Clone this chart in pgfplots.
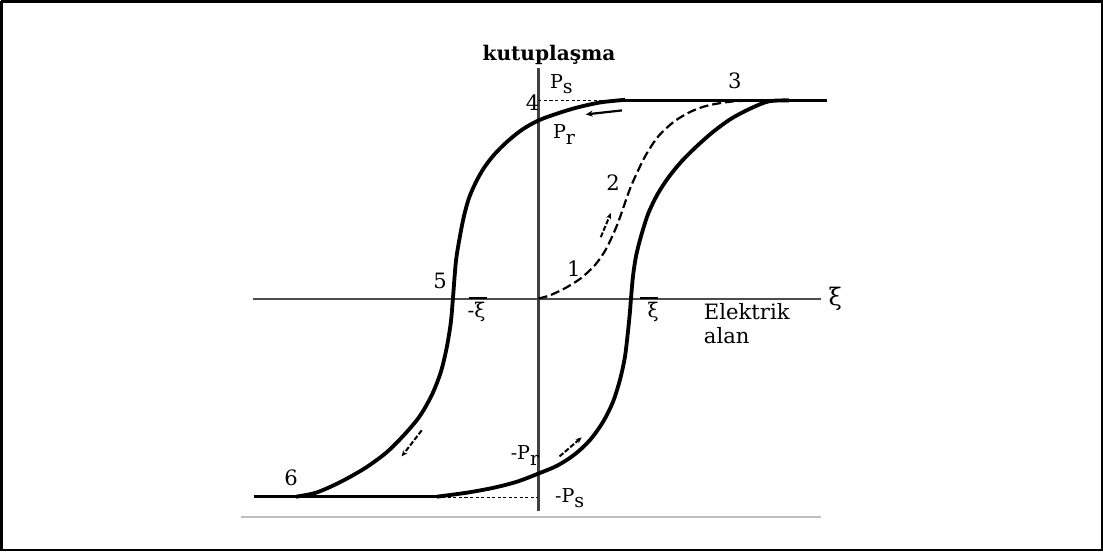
\documentclass[border=0pt]{standalone}
\usepackage{pgfplots}
\pgfplotsset{compat=1.18}
\usepackage{fontspec}
\setmainfont{DejaVu Serif}
\usetikzlibrary{arrows.meta}
\newcommand{\fs}[1]{\fontsize{#1bp}{#1bp}\selectfont}
\begin{document}
\begin{tikzpicture}
\begin{axis}[width=1103bp, height=551bp, scale only axis,
  xmin=0, xmax=1103, ymin=0, ymax=551, y dir=reverse,
  hide axis, clip=false,
  every node/.style={text=black!85, inner sep=0pt, outer sep=0pt}]
% outer frame
\addplot[black, line width=2.5bp] coordinates {(7,1.5) (1101,1.5) (1101,547) (7,547) (7,1.5)};
% bottom light gray line
\addplot[black!25, line width=1.5bp] coordinates {(245,514) (822,514)};
% axes
\addplot[black!70, line width=2bp] coordinates {(257,297) (822,297)};
\addplot[black!75, line width=2.8bp] coordinates {(541,68) (541,508)};
% dashed saturation guides
\addplot[black, line width=1bp, dash pattern=on 3bp off 2.5bp] coordinates {(541,100) (618,100)};
\addplot[black, line width=1bp, dash pattern=on 3bp off 2.5bp] coordinates {(440,494.5) (541,494.5)};
% saturation lines
\addplot[black, line width=3.5bp] coordinates {(620,100) (828,100)};
\addplot[black, line width=3.5bp] coordinates {(258,494) (445,494)};
% upper (descending) branch
\addplot[black, line width=3.8bp, smooth] coordinates {
(627,99.5) (603,102) (580,107) (560,113) (541,120) (525,129) (510,141) (497,154)
(487,167) (479,181) (472,197) (467,215) (463,235) (459,260) (456,297) (454,320)
(450,345) (444,370) (435,393) (423,414) (408,432) (390,450) (368,466) (343,480)
(320,490) (300,494)};
% lower (ascending) branch
\addplot[black, line width=3.8bp, smooth] coordinates {
(440,494) (470,490) (497,485) (520,479) (541,471) (560,463) (577,452) (592,438)
(605,420) (615,400) (622,378) (627,355) (630,330) (632,310) (633,297) (635,275)
(638,255) (643,235) (650,213) (659,194) (670,177) (683,161) (698,146) (715,131)
(733,118) (752,108) (770,101) (790,100)};
% virgin curve
\addplot[black, line width=2.2bp, smooth, dash pattern=on 9bp off 4bp] coordinates {
(541,297) (552,294) (567,287) (583,277) (597,264) (607,250) (614,236) (620,222)
(626,205) (632,188) (639,172) (648,154) (660,136) (676,121) (693,111) (710,105)
(735,101) (765,100)};
% direction arrows
\addplot[black, line width=2.2bp, -{Stealth[length=7bp,width=6bp]}] coordinates {(624,110) (588,114)};
\addplot[black, line width=2bp, dash pattern=on 5bp off 2bp, -{Stealth[length=6bp,width=5bp]}] coordinates {(603,236) (613,212)};
\addplot[black, line width=2bp, dash pattern=on 5bp off 2bp, -{Stealth[length=6bp,width=5bp]}] coordinates {(425,428) (405,454)};
\addplot[black, line width=2bp, dash pattern=on 5bp off 2bp, -{Stealth[length=6bp,width=5bp]}] coordinates {(562,454) (584,435)};
\addplot[black, line width=2bp] coordinates {(472,296) (490,296)};
\addplot[black, line width=2bp] coordinates {(642,296) (660,296)};
% labels
\node[anchor=base west] at (axis cs:482,60) {\fs{20}\bfseries kutuplaşma};
\node[anchor=base west] at (axis cs:549,88) {\fs{19}P\raisebox{-5bp}{s}};
\node[anchor=base west] at (axis cs:525,110) {\fs{21}4};
\node[anchor=base west] at (axis cs:552,138) {\fs{19}P\raisebox{-6bp}{r}};
\node[anchor=base west] at (axis cs:726,88) {\fs{21}3};
\node[anchor=base west] at (axis cs:605,190) {\fs{21}2};
\node[anchor=base west] at (axis cs:566,275) {\fs{21}1};
\node[anchor=base west] at (axis cs:433,287) {\fs{21}5};
\node[anchor=base west] at (axis cs:467,316) {\fs{20}-ξ};
\node[anchor=base west] at (axis cs:646,316) {\fs{20}ξ};
\node[anchor=base west] at (axis cs:702,318) {\fs{21}Elektrik};
\node[anchor=base west] at (axis cs:702,342) {\fs{21}alan};
\node[anchor=base west] at (axis cs:826,304) {\fs{24}ξ};
\node[anchor=base west] at (axis cs:285,483) {\fs{21}6};
\node[anchor=base west] at (axis cs:510,457) {\fs{19}-P\raisebox{-6bp}{r}};
\node[anchor=base west] at (axis cs:554,500) {\fs{19}-P\raisebox{-5bp}{s}};
\end{axis}
\end{tikzpicture}
\end{document}
